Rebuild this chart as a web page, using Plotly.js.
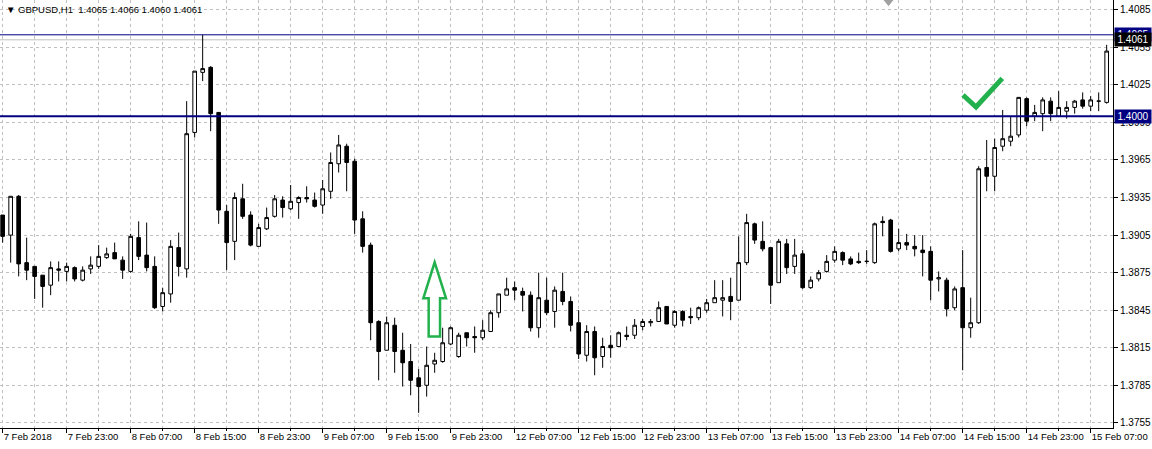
<!DOCTYPE html>
<html>
<head>
<meta charset="utf-8">
<script src="https://cdn.plot.ly/plotly-3.0.1.min.js"></script>
<style>html,body{margin:0;padding:0;background:#fff;}#chart{width:1152px;height:449px;}</style>
</head>
<body>
<div id="chart"></div>
<script>
// ---- data (GBPUSD H1, bar index 0 = 7 Feb 2018 15:00) ----
const opens = [1.3921,1.3905,1.3936,1.3883,1.3880,1.3873,1.3865,1.3878,1.3876,1.3879,
1.3869,1.3878,1.3880,1.3887,1.3891,1.3885,1.3876,1.3903,1.3889,1.3880,
1.3848,1.3858,1.3895,1.3878,1.3987,1.4035,1.4039,1.4003,1.3924,1.3900,
1.3934,1.3921,1.3896,1.3910,1.3920,1.3933,1.3926,1.3931,1.3935,1.3933,
1.3929,1.3940,1.3962,1.3976,1.3964,1.3918,1.3897,1.3836,1.3813,1.3833,
1.3813,1.3804,1.3791,1.3785,1.3802,1.3804,1.3818,1.3808,1.3827,1.3824,
1.3823,1.3828,1.3843,1.3857,1.3863,1.3860,1.3857,1.3831,1.3853,1.3844,
1.3860,1.3852,1.3835,1.3809,1.3828,1.3808,1.3817,1.3816,1.3825,1.3825,
1.3832,1.3835,1.3836,1.3848,1.3833,1.3844,1.3840,1.3839,1.3845,1.3851,
1.3853,1.3856,1.3853,1.3883,1.3914,1.3900,1.3895,1.3867,1.3898,1.3880,
1.3890,1.3863,1.3870,1.3876,1.3885,1.3891,1.3886,1.3884,1.3884,1.3883,
1.3916,1.3917,1.3894,1.3899,1.3896,1.3893,1.3892,1.3870,1.3869,1.3847,
1.3863,1.3831,1.3835,1.3959,1.3952,1.3976,1.3980,1.3985,1.4014,1.4000,
1.4002,1.4012,1.4000,1.4004,1.4007,1.4013,1.4008,1.4012,1.4011];
const highs = [1.3921,1.3936,1.3937,1.3903,1.3880,1.3873,1.3884,1.3884,1.3883,1.3880,
1.3880,1.3888,1.3897,1.3895,1.3899,1.3888,1.3906,1.3916,1.3915,1.3888,
1.3863,1.3901,1.3907,1.4012,1.4036,1.4065,1.4040,1.4003,1.3929,1.3939,
1.3946,1.3924,1.3914,1.3927,1.3937,1.3936,1.3945,1.3936,1.3944,1.3939,
1.3949,1.3971,1.3985,1.3978,1.3966,1.3924,1.3899,1.3837,1.3840,1.3839,
1.3827,1.3818,1.3798,1.3816,1.3811,1.3831,1.3832,1.3827,1.3827,1.3832,
1.3837,1.3845,1.3858,1.3871,1.3868,1.3863,1.3860,1.3875,1.3871,1.3864,
1.3875,1.3856,1.3845,1.3833,1.3832,1.3823,1.3825,1.3828,1.3832,1.3838,
1.3838,1.3838,1.3852,1.3848,1.3845,1.3845,1.3847,1.3848,1.3854,1.3869,
1.3869,1.3871,1.3904,1.3922,1.3915,1.3916,1.3895,1.3902,1.3902,1.3902,
1.3893,1.3872,1.3877,1.3889,1.3896,1.3892,1.3888,1.3891,1.3893,1.3915,
1.3920,1.3918,1.3910,1.3906,1.3905,1.3905,1.3896,1.3876,1.3871,1.3864,
1.3893,1.3855,1.3960,1.3981,1.3982,1.4005,1.4000,1.4015,1.4015,1.4009,
1.4015,1.4015,1.4020,1.4012,1.4013,1.4019,1.4016,1.4019,1.4057];
const lows = [1.3899,1.3883,1.3872,1.3869,1.3854,1.3847,1.3857,1.3868,1.3868,1.3868,
1.3868,1.3874,1.3878,1.3886,1.3886,1.3870,1.3875,1.3885,1.3876,1.3846,
1.3844,1.3851,1.3872,1.3871,1.3983,1.4028,1.3988,1.3914,1.3877,1.3885,
1.3918,1.3896,1.3896,1.3909,1.3919,1.3919,1.3925,1.3918,1.3931,1.3927,
1.3922,1.3934,1.3955,1.3940,1.3906,1.3891,1.3821,1.3789,1.3813,1.3795,
1.3784,1.3777,1.3763,1.3776,1.3795,1.3803,1.3817,1.3807,1.3816,1.3811,
1.3821,1.3828,1.3839,1.3857,1.3853,1.3844,1.3828,1.3823,1.3841,1.3831,
1.3849,1.3828,1.3806,1.3804,1.3793,1.3799,1.3807,1.3816,1.3821,1.3822,
1.3829,1.3832,1.3836,1.3834,1.3831,1.3832,1.3834,1.3837,1.3843,1.3851,
1.3840,1.3837,1.3853,1.3881,1.3898,1.3892,1.3850,1.3867,1.3874,1.3874,
1.3862,1.3862,1.3868,1.3875,1.3883,1.3881,1.3881,1.3882,1.3882,1.3882,
1.3904,1.3891,1.3892,1.3893,1.3888,1.3872,1.3853,1.3860,1.3840,1.3845,
1.3797,1.3823,1.3834,1.3940,1.3940,1.3972,1.3976,1.3983,1.3992,1.3996,
1.3988,1.3996,1.4000,1.3998,1.4002,1.4006,1.4004,1.4004,1.4010];
const closes = [1.3904,1.3936,1.3882,1.3877,1.3872,1.3864,1.3879,1.3877,1.3880,1.3870,
1.3877,1.3881,1.3888,1.3890,1.3886,1.3877,1.3904,1.3888,1.3879,1.3847,
1.3859,1.3896,1.3880,1.3986,1.4036,1.4038,1.4002,1.3925,1.3899,1.3935,
1.3920,1.3897,1.3911,1.3919,1.3934,1.3927,1.3932,1.3935,1.3934,1.3928,
1.3942,1.3963,1.3977,1.3963,1.3917,1.3896,1.3835,1.3812,1.3835,1.3812,
1.3803,1.3789,1.3784,1.3801,1.3805,1.3819,1.3831,1.3825,1.3823,1.3823,
1.3829,1.3843,1.3858,1.3862,1.3861,1.3857,1.3831,1.3855,1.3843,1.3861,
1.3852,1.3833,1.3810,1.3828,1.3807,1.3816,1.3815,1.3827,1.3824,1.3833,
1.3836,1.3836,1.3847,1.3834,1.3844,1.3837,1.3839,1.3847,1.3851,1.3855,
1.3855,1.3852,1.3883,1.3915,1.3901,1.3894,1.3865,1.3900,1.3879,1.3889,
1.3863,1.3869,1.3875,1.3884,1.3892,1.3885,1.3882,1.3883,1.3884,1.3914,
1.3915,1.3892,1.3899,1.3897,1.3894,1.3891,1.3869,1.3871,1.3846,1.3862,
1.3831,1.3835,1.3958,1.3952,1.3975,1.3982,1.3984,1.4015,1.3996,1.4003,
1.4013,1.4002,1.4007,1.4007,1.4012,1.4008,1.4013,1.4012,1.4052];

const tickLabels = ['7 Feb 2018','7 Feb 23:00','8 Feb 07:00','8 Feb 15:00','8 Feb 23:00',
'9 Feb 07:00','9 Feb 15:00','9 Feb 23:00','12 Feb 07:00','12 Feb 15:00','12 Feb 23:00',
'13 Feb 07:00','13 Feb 15:00','13 Feb 23:00','14 Feb 07:00','14 Feb 15:00','14 Feb 23:00','15 Feb 07:00'];
const barsPerLabel = 8;

const symbolTitle = '\u25BC GBPUSD,H1\u00a0\u00a01.4065 1.4066 1.4060 1.4061';
const supportLevel = 1.4000;
const highLevel = 1.4065;
const bidLevel = 1.4061;

// annotation drawings (bar index, price)
const arrowX = [54.0, 55.42, 54.67, 54.67, 53.25, 53.25, 52.58];
const arrowY = [1.38833, 1.38545, 1.38545, 1.38239, 1.38239, 1.38545, 1.38545];
const checkX = [120.04, 121.67, 124.95];
const checkY = [1.40169, 1.40073, 1.40302];

// ---- build ----
const idx = opens.map((_, i) => i);
const tickvals = tickLabels.map((_, k) => k * barsPerLabel);
const minorvals = tickLabels.map((_, k) => k * barsPerLabel + barsPerLabel / 2);

function pathOf(xs, ys, close) {
  let p = xs.map((x, k) => (k === 0 ? 'M' : 'L') + x + ',' + ys[k]).join(' ');
  return close ? p + ' Z' : p;
}

const FONT = 'Liberation Sans, Arial, sans-serif';
const GRID = '#c0c0c0';

const trace = {
  type: 'candlestick',
  x: idx, open: opens, high: highs, low: lows, close: closes,
  increasing: {line: {color: '#000000', width: 1}, fillcolor: '#ffffff'},
  decreasing: {line: {color: '#000000', width: 1}, fillcolor: '#000000'},
  whiskerwidth: 0,
  hoverinfo: 'skip',
  showlegend: false
};

const layout = {
  width: 1152, height: 449,
  margin: {l: 0, r: 39, t: 0, b: 21, pad: 0},
  paper_bgcolor: '#ffffff', plot_bgcolor: '#ffffff',
  boxgap: 0.35,
  showlegend: false,
  font: {family: FONT, size: 10, color: '#000000'},
  xaxis: {
    range: [-0.333, 138.79],
    rangeslider: {visible: false},
    tickmode: 'array', tickvals: tickvals, ticktext: tickLabels,
    tickangle: 0,
    ticklabelposition: 'outside right',
    ticks: 'outside', ticklen: 4, tickcolor: '#000000', tickwidth: 1,
    showgrid: true, gridcolor: GRID, griddash: '3px,3px', gridwidth: 1,
    minor: {tickmode: 'array', tickvals: minorvals, ticks: 'outside', ticklen: 2, tickcolor: '#000000',
            showgrid: true, gridcolor: GRID, griddash: '3px,3px', gridwidth: 1},
    showline: true, linecolor: '#000000', linewidth: 1,
    zeroline: false, fixedrange: true, automargin: false,
    tickfont: {family: FONT, size: 9.5, color: '#000000'}
  },
  yaxis: {
    side: 'right',
    range: [1.37509, 1.40928],
    tickmode: 'linear', tick0: 1.3755, dtick: 0.003, tickformat: '.4f',
    ticks: 'outside', ticklen: 4, tickcolor: '#000000',
    showgrid: true, gridcolor: GRID, griddash: '3px,3px', gridwidth: 1,
    showline: true, linecolor: '#000000', linewidth: 1,
    zeroline: false, fixedrange: true, automargin: false,
    tickfont: {family: FONT, size: 10, color: '#000000'}
  },
  shapes: [
    {type: 'line', xref: 'paper', yref: 'y', x0: 0, x1: 1, y0: highLevel, y1: highLevel,
     line: {color: '#000080', width: 1}, layer: 'below'},
    {type: 'line', xref: 'paper', yref: 'y', x0: 0, x1: 1, y0: bidLevel, y1: bidLevel,
     line: {color: '#c0c0c0', width: 1}, layer: 'below'},
    {type: 'line', xref: 'paper', yref: 'y', x0: 0, x1: 1, y0: supportLevel, y1: supportLevel,
     line: {color: '#000080', width: 2}, layer: 'above'},
    {type: 'path', xref: 'x', yref: 'y', path: pathOf(arrowX, arrowY, true),
     line: {color: '#22b14c', width: 2.5}, fillcolor: 'rgba(0,0,0,0)'},
    {type: 'path', xref: 'x', yref: 'y', path: pathOf(checkX, checkY, false),
     line: {color: '#22b14c', width: 5}, fillcolor: 'rgba(0,0,0,0)'},
    {type: 'path', xref: 'paper', yref: 'paper', path: 'M0.7943,1 L0.8023,1 L0.7983,0.987 Z',
     line: {color: '#a0a0a0', width: 1}, fillcolor: '#a0a0a0'}
  ],
  annotations: [
    {xref: 'paper', yref: 'paper', x: 0, y: 1, xanchor: 'left', yanchor: 'top',
     xshift: 4, yshift: -2, showarrow: false, align: 'left',
     text: symbolTitle, font: {family: FONT, size: 9.5, color: '#000000'}},
    {xref: 'paper', yref: 'y', x: 1, y: highLevel, xanchor: 'left', yanchor: 'middle',
     xshift: 1, showarrow: false, text: highLevel.toFixed(4), bgcolor: '#000080',
     font: {family: FONT, size: 10, color: '#ffffff'}, borderpad: 1, width: 34},
    {xref: 'paper', yref: 'y', x: 1, y: bidLevel, xanchor: 'left', yanchor: 'middle',
     xshift: 1, showarrow: false, text: bidLevel.toFixed(4), bgcolor: '#000000',
     font: {family: FONT, size: 10, color: '#ffffff'}, borderpad: 1, width: 34},
    {xref: 'paper', yref: 'y', x: 1, y: supportLevel, xanchor: 'left', yanchor: 'middle',
     xshift: 1, showarrow: false, text: supportLevel.toFixed(4), bgcolor: '#000080',
     font: {family: FONT, size: 10, color: '#ffffff'}, borderpad: 1, width: 34}
  ]
};

Plotly.newPlot('chart', [trace], layout, {displayModeBar: false, staticPlot: true});
</script>
</body>
</html>
